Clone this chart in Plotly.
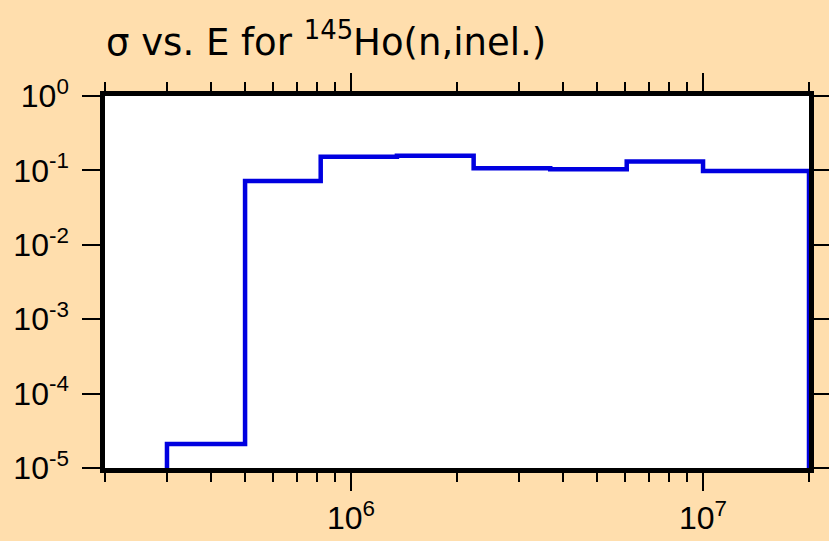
import plotly.graph_objects as go

# bin edges (eV) and cross section per bin (b)
edges = [3.0e5, 5.0e5, 8.2e5, 1.35e6, 2.23e6, 3.68e6, 6.07e6, 1.0e7, 2.0e7]
sigma = [2.1e-5, 0.072, 0.152, 0.157, 0.107, 0.104, 0.132, 0.098]
floor = 1e-5

xtick_vals = [1e6, 1e7]
xtick_text = ["10<sup>6</sup>", "10<sup>7</sup>"]
ytick_vals = [1e-5, 1e-4, 1e-3, 1e-2, 1e-1, 1e0]
ytick_text = ["10<sup>-5</sup>", "10<sup>-4</sup>", "10<sup>-3</sup>",
              "10<sup>-2</sup>", "10<sup>-1</sup>", "10<sup>0</sup>"]
minor_vals = [m * 10**p for p in (5, 6) for m in range(2, 10)] + [2e7]

# build the histogram outline (hv steps)
x = [edges[0]] + edges[:-1] + [edges[-1], edges[-1]]
y = [floor] + sigma + [sigma[-1], floor]

fig = go.Figure(go.Scatter(
    x=x, y=y, mode="lines",
    line=dict(color="#0000e0", width=4.5, shape="hv"),
    showlegend=False, hoverinfo="skip"
))

axis_common = dict(
    showline=True, linecolor="black", linewidth=4.5, mirror="ticks",
    ticks="outside", tickcolor="black", tickwidth=2, ticklen=18,
    showgrid=False, zeroline=False, automargin=False,
    tickfont=dict(family="Liberation Sans, Arial", size=32, color="black"),
)

fig.update_layout(
    width=829, height=541, autosize=False,
    paper_bgcolor="#ffdead", plot_bgcolor="white",
    margin=dict(l=105, r=20, t=96, b=73),
    title=dict(text="σ vs. E for <sup>145</sup>Ho(n,inel.)",
               x=106 / 829, xanchor="left", y=1 - 42 / 541, yanchor="middle",
               font=dict(family="DejaVu Sans", size=37, color="black")),
    xaxis=dict(type="log", range=[5.30103, 7.30103],
               tickmode="array", tickvals=xtick_vals, ticktext=xtick_text,
               minor=dict(ticks="outside", ticklen=9, tickwidth=2, tickcolor="black",
                          tickmode="array", tickvals=minor_vals),
               **axis_common),
    yaxis=dict(type="log", range=[-5, 0],
               tickmode="array", tickvals=ytick_vals, ticktext=ytick_text,
               ticklabelstandoff=7,
               **axis_common),
)

fig.write_html(
    "out.html",
    config={"responsive": False, "displayModeBar": False},
    post_script="document.body.style.margin='0';"
                "document.body.style.overflow='hidden';"
                "document.documentElement.style.overflow='hidden';",
)
